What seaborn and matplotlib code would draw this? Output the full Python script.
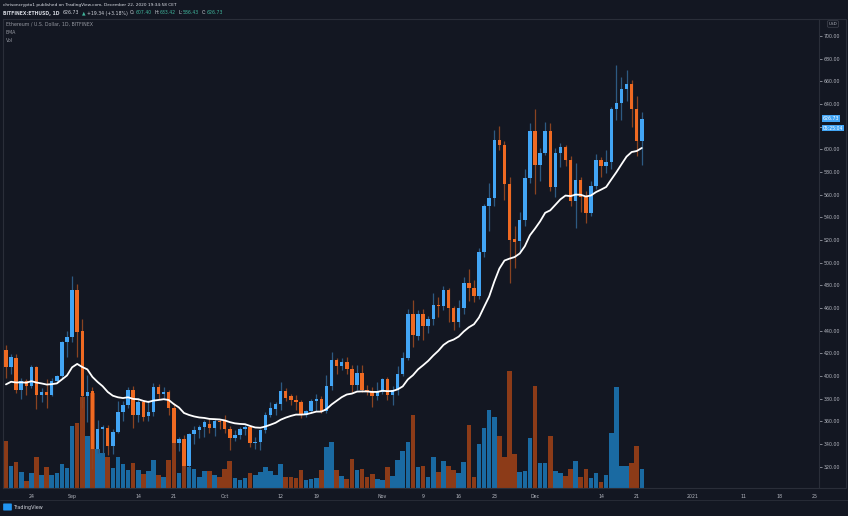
import numpy as np
import pandas as pd
import matplotlib
matplotlib.use("Agg")
import matplotlib.pyplot as plt
import matplotlib.transforms as mtransforms
from matplotlib.lines import Line2D
from matplotlib.patches import FancyBboxPatch
import seaborn as sns

# daily ETH/USD candles, Bitfinex, 19 Aug - 22 Dec 2020
dates = pd.date_range("2020-08-19", "2020-12-22", freq="D")

opens = [423, 408, 416, 388, 396, 391, 408, 383, 386, 383, 396, 400, 430,
         434, 476, 440, 382, 387, 336, 353, 354, 338, 351, 368, 374, 388, 366,
         377, 365, 368, 390, 384, 386, 372, 341, 344, 321, 349, 352, 355, 358,
         354, 360,
         360, 353, 345, 348, 353, 355, 341, 342, 352, 366, 371, 375, 387, 382,
         379, 377, 366, 369, 378, 380, 369, 391, 414, 409, 412, 406, 392, 403,
         388, 386, 382,
         386, 397, 383, 388, 402, 416, 455, 435, 455, 444, 450, 463, 462, 476,
         460, 448, 460, 482, 478, 471, 509, 550, 557, 608, 604, 569, 521, 519,
         538, 575,
         616, 586, 597, 616, 567, 597, 602, 591, 554, 573, 558, 544, 568, 591,
         585, 589, 636, 641, 653, 658, 636, 607]
highs = [427, 419, 419, 398, 397, 410, 409, 389, 397, 398, 401, 431, 440,
         488, 481, 450, 401, 390, 361, 357, 357, 353, 378, 378, 390, 391, 381,
         379, 379, 394, 393, 390, 388, 376, 346, 348, 350, 356, 357, 361, 362,
         362, 362,
         366, 356, 352, 355, 357, 357, 346, 353, 368, 377, 377, 395, 389, 384,
         383, 379, 370, 380, 384, 382, 401, 421, 416, 416, 417, 410, 410, 410,
         392, 390, 395,
         398, 399, 391, 409, 421, 459, 467, 458, 459, 453, 473, 470, 479, 478,
         462, 467, 487, 494, 485, 513, 552, 570, 617, 621, 607, 576, 532, 545,
         583, 623,
         636, 601, 624, 623, 601, 606, 604, 594, 588, 576, 563, 572, 596, 593,
         599, 637, 674, 664, 670, 661, 647, 633]
lows = [398, 402, 385, 380, 383, 389, 371, 377, 372, 382, 394, 398, 417,
        430, 417, 372, 359, 318, 332, 332, 330, 331, 350, 360, 372, 354, 359,
        360, 360, 365, 380, 380, 366, 336, 334, 318, 319, 340, 345, 346, 350,
        347, 353,
        350, 335, 343, 344, 348, 337, 336, 335, 350, 364, 366, 370, 378, 374,
        370, 363, 364, 367, 369, 367, 367, 388, 402, 405, 402, 386, 388, 386,
        383, 373, 379,
        384, 379, 374, 383, 400, 414, 426, 432, 432, 438, 445, 452, 458, 448,
        441, 443, 455, 466, 465, 468, 505, 528, 550, 599, 555, 482, 495, 509,
        532, 570,
        561, 572, 595, 563, 558, 584, 585, 550, 531, 545, 535, 541, 565, 576,
        579, 583, 626, 626, 643, 620, 594, 586]
closes = [408, 417, 388, 396, 391, 408, 383, 386, 383, 396, 400, 430, 434,
          476, 439, 382, 386, 336, 353, 355, 338, 351, 368, 374, 388, 366, 377,
          364, 368, 390, 384, 386, 372, 341, 344, 321, 349, 352, 355, 359, 354,
          360, 359,
          353, 345, 348, 353, 355, 341, 342, 352, 366, 372, 375, 387, 381, 379,
          377, 366, 369, 378, 380, 369, 391, 414, 409, 412, 406, 392, 403, 388,
          386, 382, 386,
          397, 383, 388, 402, 416, 455, 436, 455, 444, 450, 463, 462, 476, 460,
          448, 460, 482, 478, 471, 509, 550, 557, 608, 604, 569, 520, 518, 538,
          575, 616,
          586, 597, 616, 567, 597, 602, 591, 554, 573, 558, 544, 568, 591, 585,
          589, 636, 641, 653, 658, 636, 607, 626.73]
# volume, thousand ETH (relative bar heights)
volume = [47, 22, 26, 16, 7, 15, 31, 13, 21, 13, 15, 24, 20,
          62, 65, 91, 52, 95, 39, 35, 31, 20, 31, 24, 18, 25, 18, 14, 17, 28,
          13, 11, 28, 45, 15, 45, 21, 19, 11, 17, 17, 13, 11,
          19, 27, 10, 8, 10, 15, 13, 16, 21, 17, 13, 24, 11, 11, 10, 18, 8, 9,
          10, 18, 41, 46, 18, 12, 9, 29, 18, 19, 11, 14, 9,
          8, 21, 12, 28, 37, 46, 73, 21, 22, 11, 31, 16, 27, 22, 18, 15, 26, 63,
          11, 44, 60, 78, 71, 52, 31, 117, 34, 16, 17, 50,
          102, 25, 25, 52, 17, 15, 12, 19, 27, 11, 19, 10, 15, 6, 13, 55, 101,
          22, 22, 25, 42, 19]
ema_seed = 391   # EMA level carried in from before the window

tick_dates = pd.to_datetime(["2020-08-24", "2020-09-01", "2020-09-14", "2020-09-21",
                             "2020-10-01", "2020-10-12", "2020-10-19", "2020-11-01",
                             "2020-11-09", "2020-11-16", "2020-11-23", "2020-12-01",
                             "2020-12-14", "2020-12-21", "2021-01-01", "2021-01-11",
                             "2021-01-18", "2021-01-25"])
tick_labels = ["24", "Sep", "14", "21", "Oct", "12", "19", "Nov", "9", "16", "23",
               "Dec", "14", "21", "2021", "11", "18", "25"]
price_ticks = list(range(320, 701, 20))
hidden_tick = 620   # covered by the last-price tags

bg = "#131722"
txt = "#b2b5be"
line_col = "#2a2e39"
up, down = "#42a5f5", "#ef6a22"
up_wick, down_wick = "#2d5a82", "#8a4321"
up_vol, down_vol = "#1a6aa2", "#8c3b18"
teal = "#3fb39a"

df = pd.DataFrame({"date": dates, "open": opens, "high": highs, "low": lows,
                   "close": closes, "volume": volume})
df["up"] = df["close"] >= df["open"]
df["ema"] = pd.Series([ema_seed] + closes).ewm(span=20, adjust=False).mean().iloc[1:].values

sns.set_theme(style="dark", rc={"axes.facecolor": bg, "figure.facecolor": bg,
                                "axes.edgecolor": line_col, "text.color": txt,
                                "xtick.color": txt, "ytick.color": txt})
plt.rcParams["font.family"] = ["DejaVu Sans"]

W, H = 848, 516
fig = plt.figure(figsize=(W / 100, H / 100), dpi=100)
rect = [3 / W, 28 / H, 816 / W, 469 / H]
axv = fig.add_axes(rect)
ax = fig.add_axes(rect, sharex=axv)
ax.set_facecolor("none")

# volume underneath
axv.bar(df["date"], df["volume"], width=0.9,
        color=np.where(df["up"], up_vol, down_vol), linewidth=0)
axv.set_ylim(0, 469)
axv.set_yticks([])
axv.tick_params(axis="x", labelbottom=False, length=0)
for s in axv.spines.values():
    s.set_visible(False)

# candles
ax.vlines(df["date"], df["low"], df["high"],
          colors=np.where(df["up"], up_wick, down_wick), linewidth=0.9, zorder=2)
body = (df["close"] - df["open"]).abs().clip(lower=0.8)
ax.bar(df["date"], body, bottom=df[["open", "close"]].min(axis=1), width=0.68,
       color=np.where(df["up"], up, down), linewidth=0, zorder=3)

sns.lineplot(data=df, x="date", y="ema", ax=ax, color="white", linewidth=1.3, zorder=4)

ax.set_xlim(pd.Timestamp("2020-08-18 10:00"), pd.Timestamp("2021-01-25 20:00"))
ax.set_ylim(301.2, 715)
ax.set_xlabel("")
ax.set_ylabel("")
ax.yaxis.tick_right()
ax.set_yticks(price_ticks)
ax.set_yticklabels(["" if p == hidden_tick else f"{p:.2f}" for p in price_ticks])
ax.set_xticks(tick_dates)
ax.set_xticklabels(tick_labels)
ax.tick_params(axis="y", labelsize=3.4, length=2, width=0.5, pad=1.5, colors=txt)
ax.tick_params(axis="x", labelsize=3.4, length=2, width=0.5, pad=2.5, colors=txt)
ax.grid(False)
for s in ax.spines.values():
    s.set_color(line_col)
    s.set_linewidth(0.8)

# last price tags on the scale
tr = mtransforms.blended_transform_factory(ax.transAxes, ax.transData)
for price, label in [(627.2, "626.73"), (618.6, "05:25:04")]:
    ax.text(1.005, price, label, transform=tr, fontsize=3.3, color="white",
            va="center", ha="left",
            bbox=dict(boxstyle="square,pad=0.15", fc=up, ec="none"), clip_on=False)


def fx(px):
    return px / W


def fy(py):
    return 1 - py / H


# frame lines outside the plot
fig.add_artist(Line2D([fx(846), fx(846)], [fy(488), fy(19)], color=line_col, lw=0.8))
fig.add_artist(Line2D([fx(819), fx(846)], [fy(488), fy(488)], color=line_col, lw=0.8))
fig.add_artist(Line2D([fx(819), fx(846)], [fy(19), fy(19)], color=line_col, lw=0.8))
fig.text(fx(833), fy(24), "USD", fontsize=3.0, color=txt, ha="center", va="center",
         bbox=dict(boxstyle="round,pad=0.3", fc=bg, ec="#434651", lw=0.5))

# header
fig.text(fx(3), fy(5), "chrisoncrypto1 published on TradingView.com, December 22, 2020 19:34:58 CET",
         fontsize=3.1, color="#e0e3eb", va="center")

fig.canvas.draw()
renderer = fig.canvas.get_renderer()
pieces = [("BITFINEX:ETHUSD, 1D", "#d1d4dc", "bold", 3), ("626.73", "#d1d4dc", "normal", 2),
          ("▲", teal, "normal", 1), ("+19.34 (+3.18%)", "#d1d4dc", "normal", 2),
          ("O:", "#d1d4dc", "normal", 0), ("607.40", teal, "normal", 2),
          ("H:", "#d1d4dc", "normal", 0), ("633.42", teal, "normal", 2),
          ("L:", "#d1d4dc", "normal", 0), ("586.43", teal, "normal", 2),
          ("C:", "#d1d4dc", "normal", 0), ("626.73", teal, "normal", 0)]
x = 3
for s, c, w, gap in pieces:
    t = fig.text(fx(x), fy(13), s, fontsize=3.3, color=c, va="center", weight=w)
    x += t.get_window_extent(renderer).width + gap + 0.5

# legend in the pane
for py, s in [(24, "Ethereum / U.S. Dollar, 1D, BITFINEX"), (32, "EMA"), (40, "Vol")]:
    fig.text(fx(6), fy(py), s, fontsize=3.4, color="#9598a1", va="center")

# footer
fig.add_artist(Line2D([0, 1], [fy(500), fy(500)], color=line_col, lw=0.6))
fig.add_artist(FancyBboxPatch((fx(4), fy(510)), fx(7), 6 / H,
                              boxstyle="round,pad=0.001", fc="#2196f3", ec="none"))
fig.text(fx(13), fy(507.5), "TradingView", fontsize=3.5, color="#d1d4dc", va="center")

fig.savefig("out.png", dpi=100, facecolor=bg)
